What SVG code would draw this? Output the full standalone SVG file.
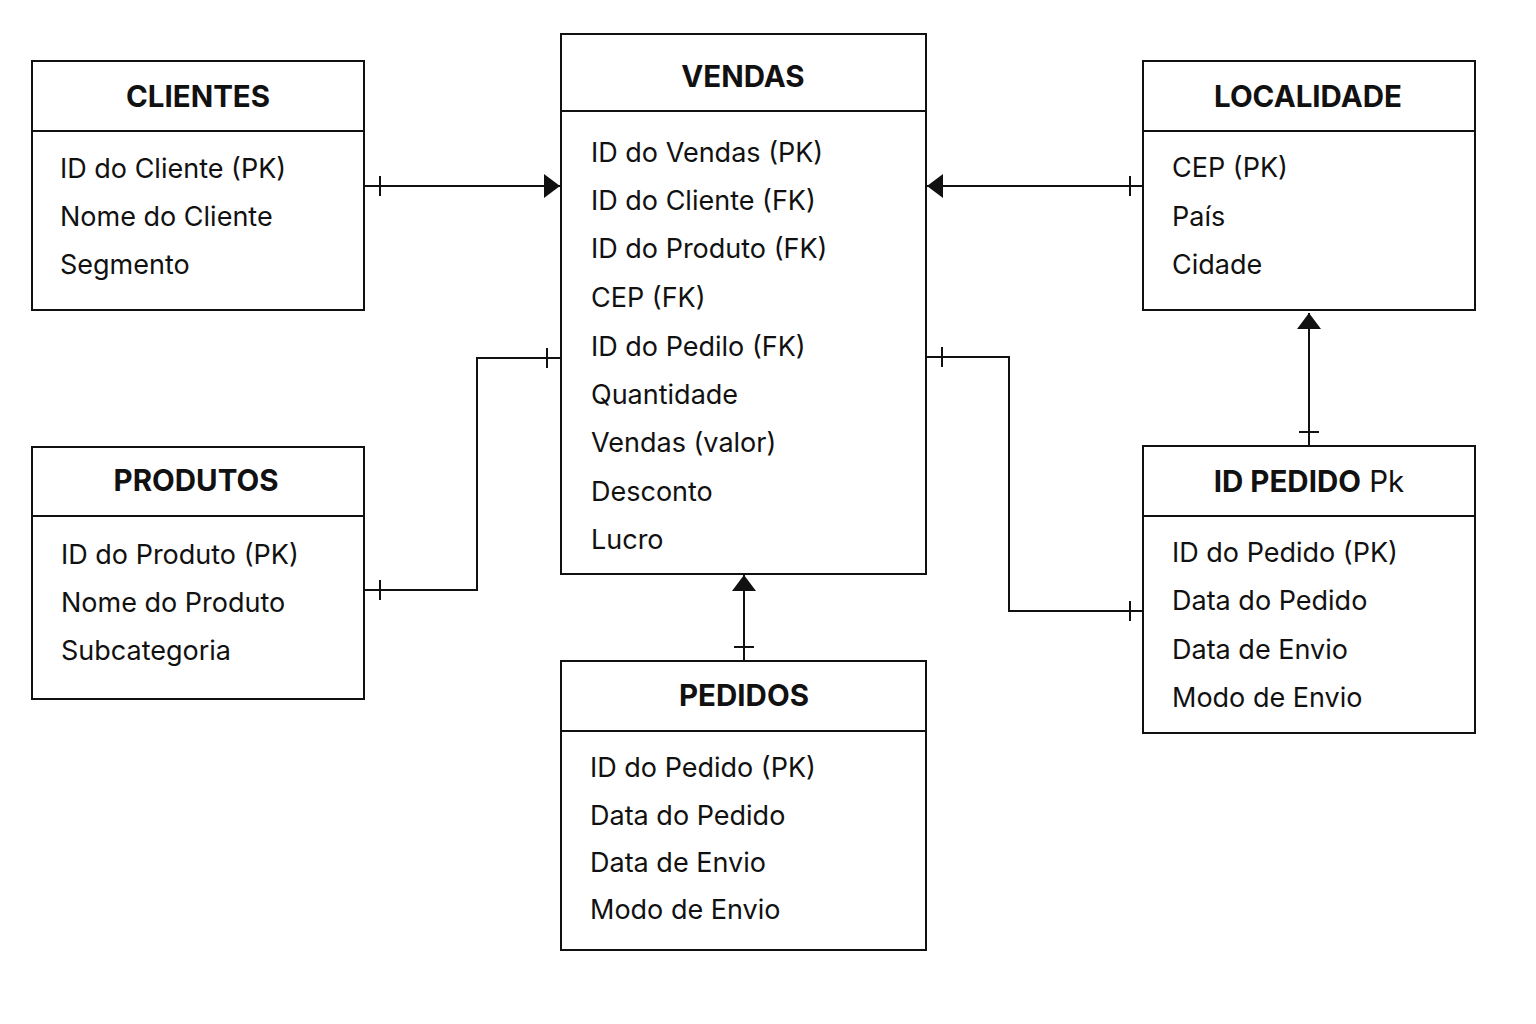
<svg xmlns="http://www.w3.org/2000/svg" width="1536" height="1024" viewBox="0 0 1536 1024">
<style>
.box{fill:#fff;stroke:#111;stroke-width:2}
.div{stroke:#111;stroke-width:2}
.title{font-family:Inter,"Noto Sans",sans-serif;font-size:29.5px;font-weight:700;fill:#111;text-anchor:middle}
.item{font-family:Inter,"Noto Sans",sans-serif;font-size:27px;fill:#111}
.conn{fill:none;stroke:#111;stroke-width:2}
.tick{stroke:#111;stroke-width:2}
</style>
<defs>
<marker id="arrow" markerWidth="16" markerHeight="24" refX="16" refY="12" orient="auto" markerUnits="userSpaceOnUse">
<path d="M0,0 L16,12 L0,24 Z" fill="#111"/>
</marker>
</defs>
<rect width="1536" height="1024" fill="#fff"/>
<g id="connectors">
<path class="conn" d="M364,186 H560" marker-end="url(#arrow)"/>
<line class="tick" x1="380" y1="176" x2="380" y2="196"/>
<path class="conn" d="M1143,186 H927" marker-end="url(#arrow)"/>
<line class="tick" x1="1130" y1="176" x2="1130" y2="196"/>
<path class="conn" d="M364,590 H477 V358 H561"/>
<line class="tick" x1="380" y1="580" x2="380" y2="600"/>
<line class="tick" x1="547" y1="348" x2="547" y2="368"/>
<path class="conn" d="M926,357 H1009 V611 H1143"/>
<line class="tick" x1="942" y1="347" x2="942" y2="367"/>
<line class="tick" x1="1130" y1="601" x2="1130" y2="621"/>
<path class="conn" d="M744,661 V575" marker-end="url(#arrow)"/>
<line class="tick" x1="734" y1="647" x2="754" y2="647"/>
<path class="conn" d="M1309,446 V313" marker-end="url(#arrow)"/>
<line class="tick" x1="1299" y1="432" x2="1319" y2="432"/>
</g>
<g id="clientes">
<rect class="box" x="32" y="61" width="332" height="249"/>
<line class="div" x1="32" y1="131" x2="364" y2="131"/>
<text class="title" x="198" y="107">CLIENTES</text>
<text class="item" x="60" y="178">ID do Cliente (PK)</text>
<text class="item" x="60" y="226">Nome do Cliente</text>
<text class="item" x="60" y="274">Segmento</text>
</g>
<g id="vendas">
<rect class="box" x="561" y="34" width="365" height="540"/>
<line class="div" x1="561" y1="111" x2="926" y2="111"/>
<text class="title" x="743" y="87">VENDAS</text>
<text class="item" x="591" y="162">ID do Vendas (PK)</text>
<text class="item" x="591" y="210">ID do Cliente (FK)</text>
<text class="item" x="591" y="258">ID do Produto (FK)</text>
<text class="item" x="591" y="307">CEP (FK)</text>
<text class="item" x="591" y="356">ID do Pedilo (FK)</text>
<text class="item" x="591" y="404">Quantidade</text>
<text class="item" x="591" y="452">Vendas (valor)</text>
<text class="item" x="591" y="501">Desconto</text>
<text class="item" x="591" y="549">Lucro</text>
</g>
<g id="localidade">
<rect class="box" x="1143" y="61" width="332" height="249"/>
<line class="div" x1="1143" y1="131" x2="1475" y2="131"/>
<text class="title" x="1308" y="107">LOCALIDADE</text>
<text class="item" x="1172" y="177">CEP (PK)</text>
<text class="item" x="1172" y="226">País</text>
<text class="item" x="1172" y="274">Cidade</text>
</g>
<g id="produtos">
<rect class="box" x="32" y="447" width="332" height="252"/>
<line class="div" x1="32" y1="516" x2="364" y2="516"/>
<text class="title" x="196" y="491">PRODUTOS</text>
<text class="item" x="61" y="564">ID do Produto (PK)</text>
<text class="item" x="61" y="612">Nome do Produto</text>
<text class="item" x="61" y="660">Subcategoria</text>
</g>
<g id="pedidos">
<rect class="box" x="561" y="661" width="365" height="289"/>
<line class="div" x1="561" y1="731" x2="926" y2="731"/>
<text class="title" x="744" y="706">PEDIDOS</text>
<text class="item" x="590" y="777">ID do Pedido (PK)</text>
<text class="item" x="590" y="825">Data do Pedido</text>
<text class="item" x="590" y="872">Data de Envio</text>
<text class="item" x="590" y="919">Modo de Envio</text>
</g>
<g id="id-pedido">
<rect class="box" x="1143" y="446" width="332" height="287"/>
<line class="div" x1="1143" y1="516" x2="1475" y2="516"/>
<text class="title" x="1309" y="492">ID PEDIDO<tspan font-weight="400"> Pk</tspan></text>
<text class="item" x="1172" y="562">ID do Pedido (PK)</text>
<text class="item" x="1172" y="610">Data do Pedido</text>
<text class="item" x="1172" y="659">Data de Envio</text>
<text class="item" x="1172" y="707">Modo de Envio</text>
</g>
</svg>
